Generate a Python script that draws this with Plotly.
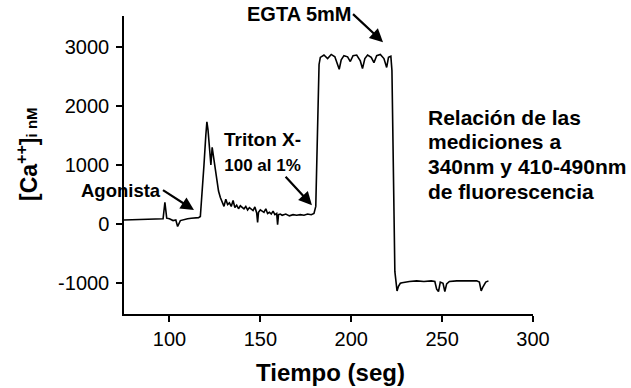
import plotly.graph_objects as go

# Calcium trace: time (s) and [Ca++]i (nM)
time_s = [
    75, 80, 85, 90, 95, 96.5, 97.5, 98.5, 100, 102, 103.5, 104.5, 106, 108, 110,
    112, 114, 116, 117, 118, 119, 120, 120.6, 121.2, 122, 122.8, 123.5, 124.2,
    125, 126, 127, 128, 129, 130, 131, 132, 133, 134, 135, 136, 137, 138, 139,
    140, 141, 142, 143, 144, 145, 146, 147, 148, 148.5, 149, 150, 151, 152, 153,
    154, 155, 156, 157, 158, 159, 159.5, 160, 161, 162, 164, 166, 168, 170, 172,
    174, 176, 178, 179.5, 180.5, 181.5, 182.3, 183, 185, 187, 189, 191, 192.5,
    193.4, 194.5, 196, 198, 199.5, 201, 203, 205, 206.2, 207.5, 209, 211, 212.5,
    214, 216, 218, 219.5, 220.5, 221.8, 222.4, 223, 224, 225.2, 226, 227, 228,
    232, 236, 240, 244, 246, 247, 248, 249, 250.5, 251.5, 252.5, 254, 258, 262,
    266, 269, 270.5, 271.5, 272.5, 274, 275.5,
]
ca_nM = [
    70, 75, 70, 80, 85, 90, 370, 100, 90, 60, 70, -40, 60, 80, 90,
    100, 100, 110, 130, 500, 1000, 1500, 1730, 1600, 1250, 1000, 1300, 1150,
    900, 720, 560, 450, 380, 300, 420, 330, 360, 300, 400, 280, 320, 260, 310,
    280, 260, 300, 240, 280, 250, 230, 290, 190, 30, 200, 240, 220, 200, 260,
    180, 200, 170, 220, 160, 180, -10, 160, 170, 150, 170, 140, 160, 150, 160,
    150, 170, 160, 180, 300, 1500, 2700, 2820, 2860, 2800, 2870, 2830, 2700,
    2620, 2780, 2850, 2830, 2750, 2850, 2860, 2760, 2630, 2800, 2860, 2820, 2730,
    2850, 2870, 2800, 2650, 2820, 2840, 2600, 1000, -800, -1130, -1050, -1000, -990,
    -970, -960, -970, -960, -970, -1100, -1140, -980, -1000, -1140, -1010, -970, -960, -960,
    -970, -960, -980, -1130, -1060, -980, -960,
]

x_ticks = [100, 150, 200, 250, 300]
y_ticks = [-1000, 0, 1000, 2000, 3000]
y_tick_text = ["-1000", "0", "1000", "2000", "3000"]

note_lines = ["Relación de las", "mediciones a", "340nm y 410-490nm", "de fluorescencia"]

FONT = "Arial, Liberation Sans, sans-serif"
W, H = 631, 388
ML, MR, MT, MB = 124, 98, 16, 74
PW, PH = W - ML - MR, H - MT - MB


def px(x):
    return (x - ML) / PW


def py(y):
    return (H - MB - y) / PH


fig = go.Figure()
fig.add_trace(go.Scatter(
    x=time_s, y=ca_nM, mode="lines",
    line=dict(color="black", width=1.6),
    showlegend=False, hoverinfo="skip",
))

axis_common = dict(
    showline=True, linecolor="black", linewidth=1.5,
    ticks="outside", ticklen=6, tickwidth=1.5, tickcolor="black",
    showgrid=False, zeroline=False,
    tickfont=dict(family=FONT, size=20, color="black"),
)
fig.update_xaxes(range=[75, 300], tickvals=x_ticks, **axis_common)
fig.update_yaxes(range=[-1520, 3520], tickvals=y_ticks, ticktext=y_tick_text,
                 ticklabelstandoff=3, **axis_common)

arrow = dict(showarrow=True, arrowhead=2, arrowsize=1.2, arrowwidth=2.2,
             arrowcolor="black", xref="x", yref="y")

# axis titles
fig.add_annotation(x=px(330), y=py(372), xref="paper", yref="paper",
                   xanchor="center", yanchor="middle",
                   text="<b>Tiempo (seg)</b>", showarrow=False,
                   font=dict(family=FONT, size=24, color="black"))
fig.add_annotation(x=px(27), y=py(154), xref="paper", yref="paper",
                   xanchor="center", yanchor="middle", textangle=-90,
                   text="<b>[Ca<sup>++</sup>]<span style='font-size:15px'>i nM</span></b>",
                   showarrow=False, font=dict(family=FONT, size=23, color="black"))

# event labels
fig.add_annotation(x=217.5, y=3078, ax=-30, ay=-28, xanchor="right",
                   text="<b>EGTA 5mM</b>",
                   font=dict(family=FONT, size=20, color="black"), **arrow)
fig.add_annotation(x=178.4, y=321, ax=-49, ay=-53,
                   text="<b>Triton X-</b><br><b><span style='font-size:17px'>100 al 1%</span></b>",
                   font=dict(family=FONT, size=19, color="black"), **arrow)
fig.add_annotation(x=113.5, y=237, ax=-31, ay=-20, xanchor="right",
                   text="<b>Agonista</b>",
                   font=dict(family=FONT, size=18.5, color="black"), **arrow)

# side note
for i, line in enumerate(note_lines):
    fig.add_annotation(
        x=px(426), y=py(117 + 24.7 * i), xref="paper", yref="paper",
        text=f"<b>{line}</b>", showarrow=False, xanchor="left", yanchor="middle",
        font=dict(family=FONT, size=21, color="black"),
    )

fig.update_layout(
    width=W, height=H,
    margin=dict(l=ML, r=MR, t=MT, b=MB),
    paper_bgcolor="white", plot_bgcolor="white",
)

fig.write_html("out.html")
